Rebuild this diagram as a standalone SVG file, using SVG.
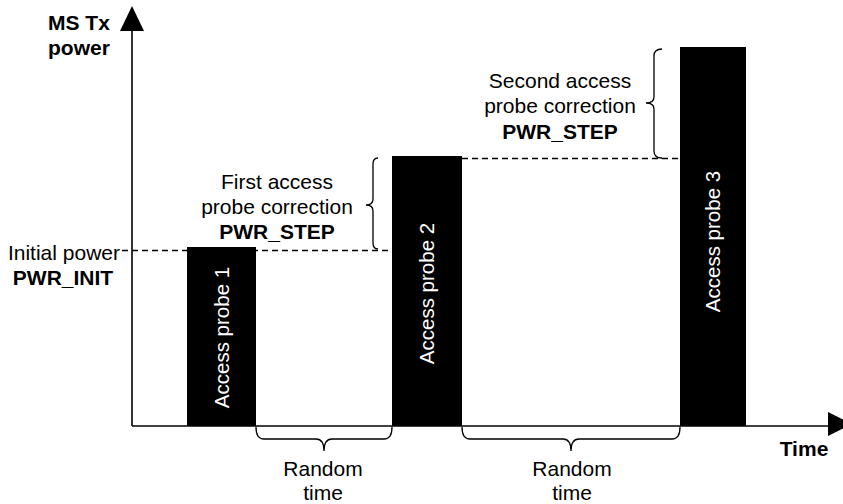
<svg xmlns="http://www.w3.org/2000/svg" width="843" height="504" viewBox="0 0 843 504">
<style>
text{font-family:"Liberation Sans",Arial,sans-serif;font-size:21px;fill:#000}
.b{font-weight:bold}
.m{text-anchor:middle}
.r{text-anchor:end}
.w{fill:#fff;font-size:20.5px;text-anchor:middle}
.bar{fill:#000}
.dash{stroke:#000;stroke-width:1.3;stroke-dasharray:6 4;fill:none}
.brace{stroke:#000;stroke-width:1.3;fill:none}
.axis{stroke:#000;stroke-width:1.6;fill:none}
</style>
<rect width="843" height="504" fill="#fff"/>
<g id="connectors">
<line class="dash" x1="122" y1="250.5" x2="392" y2="250.5"/>
<line class="dash" x1="462" y1="158.5" x2="680" y2="158.5"/>
<path class="brace" d="M378,158 Q373,158 373,164 L373,199 Q373,205 366,205 Q373,205 373,211 L373,243 Q373,249 378,249"/>
<path class="brace" d="M662,49 Q654,49 654,56 L654,97 Q654,103 646,103 Q654,103 654,109 L654,151 Q654,158 662,158"/>
<path class="brace" d="M256,427 Q256,439 264,439 L316,439 Q324,439 324,451 Q324,439 332,439 L384,439 Q392,439 392,427"/>
<path class="brace" d="M462,427 Q462,439 470,439 L563,439 Q571,439 571,451 Q571,439 579,439 L672,439 Q680,439 680,427"/>
</g>
<g id="axes">
<line class="axis" x1="132" y1="28" x2="132" y2="426"/>
<line class="axis" x1="132" y1="426" x2="830" y2="426"/>
<polygon points="132,6 144,31 120,31" fill="#000"/>
<polygon points="828,412 852,424 828,436" fill="#000"/>
<text class="b" x="48" y="30">MS Tx</text>
<text class="b" x="48" y="55">power</text>
<text class="b m" x="804" y="456">Time</text>
</g>
<g id="init">
<text class="r" x="120" y="260">Initial power</text>
<text class="b m" x="63" y="285">PWR_INIT</text>
</g>
<g id="probe1">
<rect class="bar" x="187" y="247" width="69" height="179"/>
<text class="w" transform="translate(229,337.5) rotate(-90)">Access probe 1</text>
</g>
<g id="probe2">
<rect class="bar" x="392" y="156" width="70" height="270"/>
<text class="w" transform="translate(434,293.5) rotate(-90)">Access probe 2</text>
</g>
<g id="probe3">
<rect class="bar" x="680" y="47" width="66" height="379"/>
<text class="w" transform="translate(720,241.5) rotate(-90)">Access probe 3</text>
</g>
<g id="first-correction">
<text class="m" x="277" y="189">First access</text>
<text class="m" x="277" y="214">probe correction</text>
<text class="b m" x="277" y="239">PWR_STEP</text>
</g>
<g id="second-correction">
<text class="m" x="560" y="88">Second access</text>
<text class="m" x="560" y="113">probe correction</text>
<text class="b m" x="560" y="139">PWR_STEP</text>
</g>
<g id="random1">
<text class="m" x="323" y="476">Random</text>
<text class="m" x="323" y="500">time</text>
</g>
<g id="random2">
<text class="m" x="572" y="476">Random</text>
<text class="m" x="572" y="500">time</text>
</g>
</svg>
